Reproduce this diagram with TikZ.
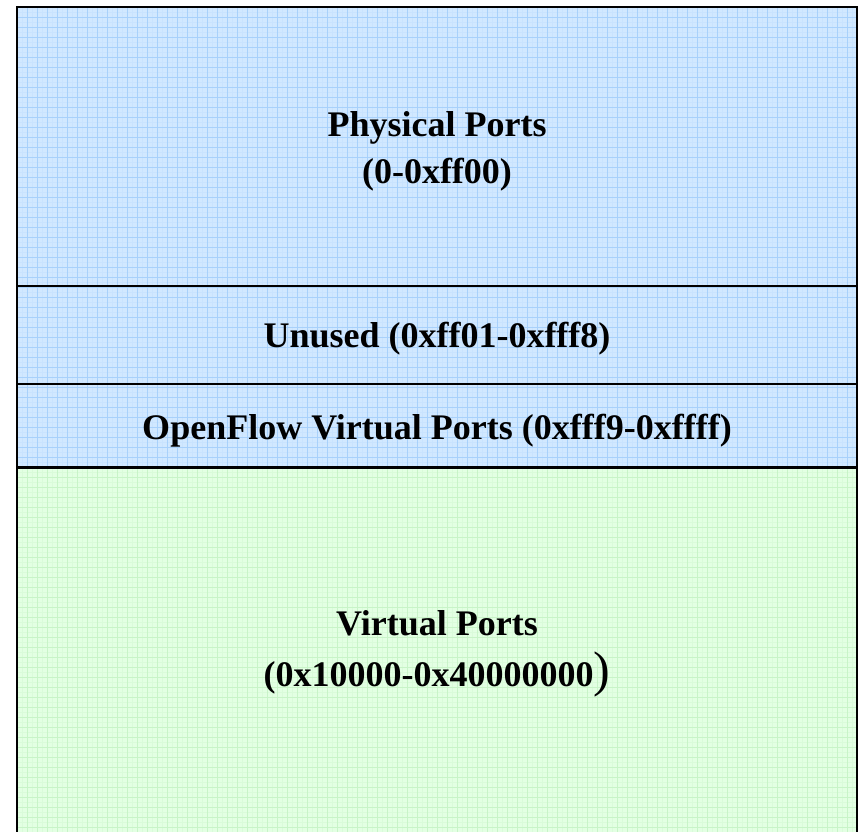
\documentclass[tikz,border=0pt]{standalone}
\usepackage{fontspec}
\setmainfont{Liberation Serif}
\definecolor{bluefill}{HTML}{D1E8FF}
\definecolor{bluegrid}{HTML}{A8D1FB}
\definecolor{bluefine}{HTML}{C9E3FE}
\definecolor{greenfill}{HTML}{E3FFE3}
\definecolor{greengrid}{HTML}{C8F4C8}
\definecolor{greenfine}{HTML}{DAFBDA}
\begin{document}
\begin{tikzpicture}[x=1pt,y=-1pt,
  lbl/.style={font=\bfseries\fontsize{36}{44}\selectfont, inner sep=0pt, anchor=base},
  divider/.style={line width=1.6pt, black},
  frame/.style={line width=2.4pt, black},
  fine/.style={line width=0.4pt},
  coarse/.style={line width=1pt}]
\useasboundingbox (0,0) rectangle (865,831);
% fills
\fill[bluefill] (17,7) rectangle (857,467);
\fill[greenfill] (17,467) rectangle (857,845);
% grids
\begin{scope}
  \clip (17,7) rectangle (857,467);
  \foreach \x in {22,32,...,857} \draw[bluefine, fine] (\x,7) -- (\x,467);
  \foreach \y in {12,22,...,467} \draw[bluefine, fine] (17,\y) -- (857,\y);
  \foreach \x in {27,37,...,857} \draw[bluegrid, coarse] (\x,7) -- (\x,467);
  \foreach \y in {17,27,...,467} \draw[bluegrid, coarse] (17,\y) -- (857,\y);
\end{scope}
\begin{scope}
  \clip (17,467) rectangle (857,845);
  \foreach \x in {22,32,...,857} \draw[greenfine, fine] (\x,467) -- (\x,845);
  \foreach \y in {472,482,...,845} \draw[greenfine, fine] (17,\y) -- (857,\y);
  \foreach \x in {27,37,...,857} \draw[greengrid, coarse] (\x,467) -- (\x,845);
  \foreach \y in {477,487,...,845} \draw[greengrid, coarse] (17,\y) -- (857,\y);
\end{scope}
% frame and dividers
\draw[frame] (17,845) -- (17,7) -- (857,7) -- (857,845);
\draw[divider] (17,286) -- (857,286);
\draw[divider] (17,384) -- (857,384);
\draw[line width=3pt] (17,467) -- (857,467);
% labels
\node[lbl] (phys1) at (437,136) {Physical Ports};
\node[lbl] (phys2) at (437,183) {(0-0xff00)};
\node[lbl] (unused) at (437,347) {Unused (0xff01-0xfff8)};
\node[lbl] (ofvp) at (437,439) {OpenFlow Virtual Ports (0xfff9-0xffff)};
\node[lbl] (virt1) at (437,635) {Virtual Ports};
\node[lbl] (virt2) at (437,686) {(0x10000-0x40000000{\fontsize{50}{50}\selectfont\mdseries)}};
\end{tikzpicture}
\end{document}
